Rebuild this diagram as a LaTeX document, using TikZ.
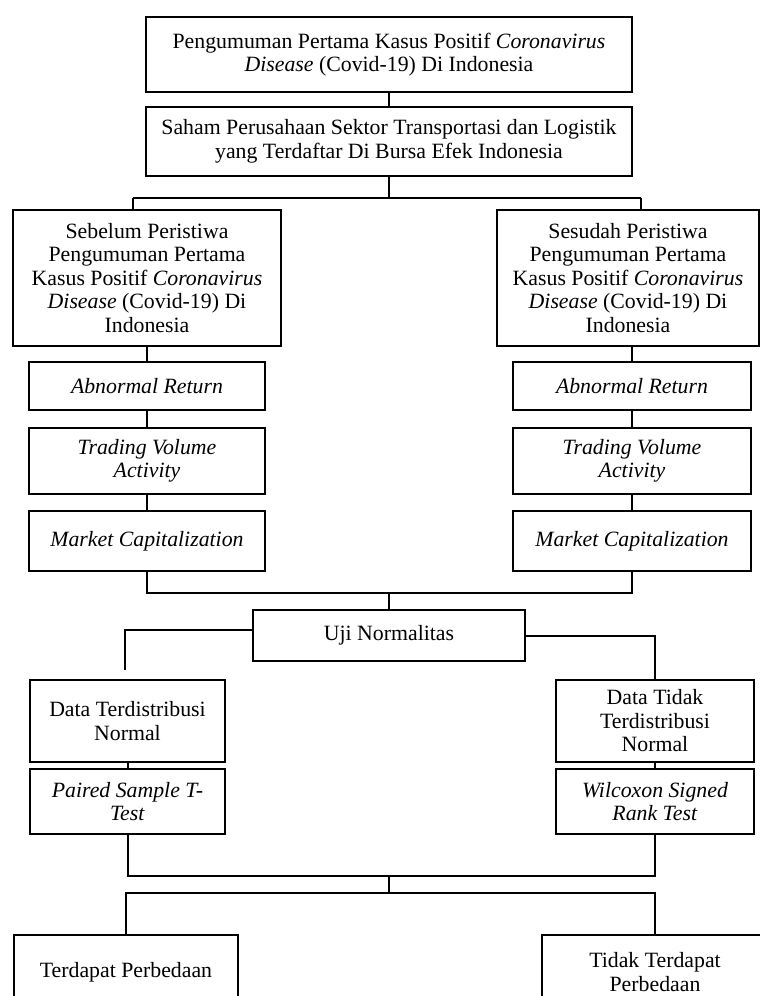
\documentclass[tikz,border=0pt]{standalone}
\usepackage{fontspec}
\setmainfont{Liberation Serif}
\begin{document}
\begin{tikzpicture}[x=1pt,y=-1pt,
  box/.style={draw, line width=2pt, align=center, inner sep=0pt,
    font=\fontsize{21.8}{23.5}\selectfont},
  conn/.style={line width=2pt}]
\clip (0,0) rectangle (760,996);
\fill[white] (0,0) rectangle (760,996);
% top
\node[box, minimum width=486pt, minimum height=75pt] (top) at (389,54.5)
  {Pengumuman Pertama Kasus Positif \textit{Coronavirus}\\ \textit{Disease} (Covid-19) Di Indonesia};
\node[box, minimum width=486pt, minimum height=69pt] (saham) at (389,141.5)
  {Saham Perusahaan Sektor Transportasi dan Logistik\\ yang Terdaftar Di Bursa Efek Indonesia};
% middle
\node[box, minimum width=268pt, minimum height=136pt] (sebelum) at (147,278)
  {Sebelum Peristiwa\\ Pengumuman Pertama\\ Kasus Positif \textit{Coronavirus}\\ \textit{Disease} (Covid-19) Di\\ Indonesia};
\node[box, minimum width=262pt, minimum height=136pt] (sesudah) at (628,278)
  {Sesudah Peristiwa\\ Pengumuman Pertama\\ Kasus Positif \textit{Coronavirus}\\ \textit{Disease} (Covid-19) Di\\ Indonesia};
\node[box, minimum width=236pt, minimum height=48pt] (abnL) at (147,386) {\textit{Abnormal Return}};
\node[box, minimum width=238pt, minimum height=48pt] (abnR) at (632,386) {\textit{Abnormal Return}};
\node[box, minimum width=236pt, minimum height=66pt] (tradL) at (147,461) {\textit{Trading Volume}\\ \textit{Activity}};
\node[box, minimum width=238pt, minimum height=66pt] (tradR) at (632,461) {\textit{Trading Volume}\\ \textit{Activity}};
\node[box, minimum width=236pt, minimum height=60pt] (markL) at (147,541) {\textit{Market Capitalization}};
\node[box, minimum width=238pt, minimum height=60pt] (markR) at (632,541) {\textit{Market Capitalization}};
% lower
\node[box, minimum width=272pt, minimum height=51pt] (uji) at (389,635.5) {Uji Normalitas};
\node[box, minimum width=195pt, minimum height=82pt] (dataL) at (127.5,721) {Data Terdistribusi\\ Normal};
\node[box, minimum width=198pt, minimum height=82pt] (dataR) at (655,721) {Data Tidak\\ Terdistribusi\\ Normal};
\node[box, minimum width=195pt, minimum height=65pt] (paired) at (127.5,801.5) {\textit{Paired Sample T-}\\ \textit{Test}};
\node[box, minimum width=198pt, minimum height=65pt] (wilc) at (655,801.5) {\textit{Wilcoxon Signed}\\ \textit{Rank Test}};
\node[box, minimum width=224pt, minimum height=74pt] (terL) at (126,972) {Terdapat Perbedaan};
\node[box, minimum width=226pt, minimum height=74pt] (terR) at (655,972) {Tidak Terdapat\\ Perbedaan};
% coordinates
\coordinate (j1) at (389,198);
\coordinate (j1L) at (133,198);
\coordinate (j1R) at (641,198);
\coordinate (j2) at (389,593);
\coordinate (u1) at (125,670);
\coordinate (j3) at (389,876);
\coordinate (j4) at (389,893);
% connectors
\draw[conn] (top) -- (saham);
\draw[conn] (saham.south) -- (j1);
\draw[conn] (j1L) -- (j1R);
\draw[conn] (j1L) -- (j1L |- sebelum.north);
\draw[conn] (j1R) -- (j1R |- sesudah.north);
\draw[conn] (sebelum) -- (abnL);
\draw[conn] (abnR.north) -- (abnR.north |- sesudah.south);
\draw[conn] (abnL) -- (tradL);
\draw[conn] (abnR) -- (tradR);
\draw[conn] (tradL) -- (markL);
\draw[conn] (tradR) -- (markR);
\draw[conn] (markL.south) |- (j2) -| (markR.south);
\draw[conn] (j2) -- (uji.north);
\draw[conn] ([yshift=5.5pt]uji.west) -| (u1);
\draw[conn] ([yshift=-0.5pt]uji.east) -| (dataR.north);
\draw[conn] (dataL) -- (paired);
\draw[conn] (dataR) -- (wilc);
\draw[conn] (paired.south) |- (j3) -| (wilc.south);
\draw[conn] (j3) -- (j4);
\draw[conn] (terL.north) |- (j4) -| (terR.north);
\end{tikzpicture}
\end{document}
